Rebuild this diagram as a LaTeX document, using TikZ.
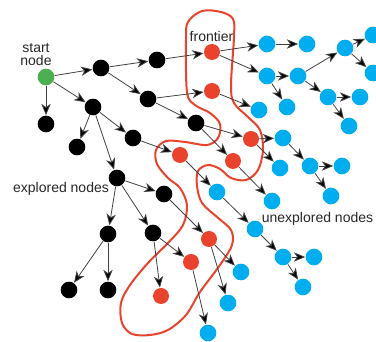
\documentclass[tikz,border=0pt]{standalone}
\usepackage{fontspec}
\setmainfont{Liberation Sans}
\usetikzlibrary{arrows.meta}

\definecolor{expcol}{RGB}{0,0,0}
\definecolor{startcol}{RGB}{76,175,80}
\definecolor{frontcol}{RGB}{234,67,45}
\definecolor{unexpcol}{RGB}{0,174,239}

\tikzset{every picture/.style={line width=0.75pt}}
\tikzset{
  gnode/.style={circle,inner sep=0pt,minimum size=12.5pt},
  startnode/.style={gnode,fill=startcol},
  expnode/.style={gnode,fill=expcol},
  frontnode/.style={gnode,fill=frontcol,minimum size=12pt},
  unexpnode/.style={gnode,fill=unexpcol},
  arr/.style={draw=black!75,line width=0.6pt,-{Stealth[length=8.5pt,width=7pt,inset=2.5pt,fill=black]}},
  lbl/.style={font=\fontsize{10.5}{9.3}\selectfont,text=black!85,align=center,inner sep=0pt}
}

\begin{document}
\begin{tikzpicture}[x=0.75pt,y=0.75pt,yscale=-1,xscale=1]
\clip (0,0) rectangle (376,342);

%Shape: Frontier outline
\draw [color=frontcol,line width=1.5pt] plot[smooth cycle,tension=0.55] coordinates {
  (202,11) (221,12) (233,19) (234,37) (231,85) (234,103) (248,117) (260,130)
  (263,150) (258,170) (246,180) (231,178) (220,169) (208,165) (198,171) (197,186)
  (202,203) (217,217) (231,230) (232,245) (220,265) (200,292) (186,315) (168,330)
  (150,335) (132,334) (122,323) (121,303) (130,285) (148,263) (168,243) (183,225)
  (187,205) (180,188) (168,178) (157,164) (156,150) (166,141) (185,142) (207,145)
  (218,138) (220,124) (210,113) (195,105) (187,92) (186,40) (188,22)};

%Nodes: start and explored
\node [startnode] (s) at (46,77) {};
\node [expnode] (e1) at (101,68) {};
\node [expnode] (e2) at (157,60) {};
\node [expnode] (e3) at (148,99) {};
\node [expnode] (e4) at (46,124) {};
\node [expnode] (e5) at (93,107) {};
\node [expnode] (e6) at (77,147) {};
\node [expnode] (e7) at (133,138) {};
\node [expnode] (e8) at (117,178) {};
\node [expnode] (e9) at (164,194) {};
\node [expnode] (e10) at (108,234) {};
\node [expnode] (e11) at (153,233) {};
\node [expnode] (e12) at (69,290) {};
\node [expnode] (e13) at (108,290) {};
\node [expnode] (e14) at (196,123) {};

%Nodes: frontier
\node [frontnode] (f1) at (212,52) {};
\node [frontnode] (f2) at (212,91) {};
\node [frontnode] (f3) at (251,139) {};
\node [frontnode] (f4) at (233,161) {};
\node [frontnode] (f5) at (180,155) {};
\node [frontnode] (f6) at (209,239) {};
\node [frontnode] (f7) at (191,262) {};
\node [frontnode] (f8) at (161,296) {};

%Nodes: unexplored
\node [unexpnode] (u1) at (267,44) {};
\node [unexpnode] (u2) at (307,44) {};
\node [unexpnode] (u3) at (267,76) {};
\node [unexpnode] (u4) at (298,76) {};
\node [unexpnode] (u5) at (345,48) {};
\node [unexpnode] (u6) at (373,35) {};
\node [unexpnode] (u7) at (373,73) {};
\node [unexpnode] (u8) at (328,97) {};
\node [unexpnode] (u9) at (360,97) {};
\node [unexpnode] (u10) at (349,126) {};
\node [unexpnode] (u11) at (287,107) {};
\node [unexpnode] (u12) at (259,110) {};
\node [unexpnode] (u13) at (283,138) {};
\node [unexpnode] (u14) at (280,168) {};
\node [unexpnode] (u15) at (310,166) {};
\node [unexpnode] (u16) at (342,166) {};
\node [unexpnode] (u17) at (331,196) {};
\node [unexpnode] (u18) at (217,192) {};
\node [unexpnode] (u19) at (272,201) {};
\node [unexpnode] (u20) at (255,229) {};
\node [unexpnode] (u21) at (283,257) {};
\node [unexpnode] (u22) at (314,257) {};
\node [unexpnode] (u23) at (303,287) {};
\node [unexpnode] (u24) at (241,272) {};
\node [unexpnode] (u25) at (228,303) {};
\node [unexpnode] (u26) at (208,333) {};

%Labels
\node [lbl] (lstart) at (36,54.5) {start\\node};
\node [lbl] (lfront) at (211.5,36) {frontier};
\node [lbl] (lexp) at (61,189) {explored nodes};
\node [lbl] (lunexp) at (317.5,219) {unexplored nodes};

%Edges
\foreach \a/\b in {s/e1,s/e4,s/e5,e1/e2,e1/e3,e2/f1,e3/f2,e3/e14,
  e5/e6,e5/e7,e5/e8,e7/f5,e8/e9,e8/e10,e8/e11,e10/e12,e10/e13,
  e11/f8,e11/f7,e9/f6,e14/f3,e14/f4,
  f1/u1,f1/u3,u1/u2,u3/u4,u3/u11,u4/u5,u4/u8,u5/u6,u5/u7,u8/u9,u8/u10,
  f2/u12,f3/u13,f3/u14,u13/u15,u15/u16,u15/u17,f4/u19,
  f5/u18,u18/u20,u20/u21,u21/u22,u21/u23,f6/u24,f6/u25,f7/u26}
  \draw [arr] (\a) -- (\b);

\end{tikzpicture}
\end{document}
